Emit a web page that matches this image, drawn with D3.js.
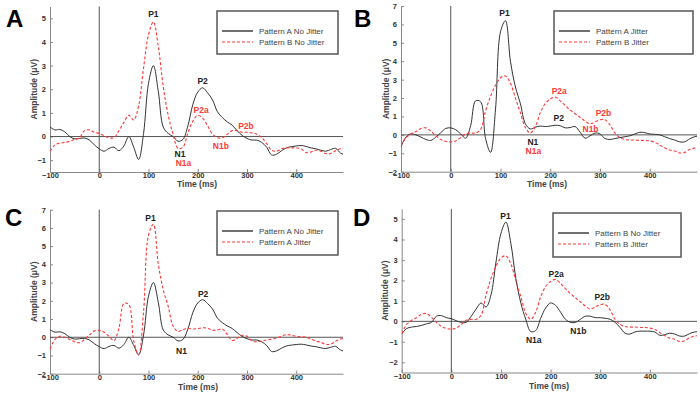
<!DOCTYPE html>
<html>
<head>
<meta charset="UTF-8">
<title>ERP waveforms</title>
<script src="https://cdn.jsdelivr.net/npm/d3@7/dist/d3.min.js"></script>
<style>
  html, body { margin: 0; padding: 0; background: #fff; }
  svg { display: block; font-family: "Liberation Sans", Arial, sans-serif; }
  .tick text { font-size: 7.5px; font-weight: bold; fill: #333; }
  .tick line, .domain { stroke: #888; }
  .axlabel { font-size: 8.5px; font-weight: bold; fill: #444; }
  .legend text { font-size: 8px; fill: #444; }
  .note { font-size: 8.5px; font-weight: bold; }
  .letter { font-size: 24px; font-weight: bold; fill: #000; }
</style>
</head>
<body>
<svg width="700" height="396"></svg>
<script>
// time grid (ms), one sample every 10 ms
const times = d3.range(-100, 510, 10)

// amplitudes in µV
const patternANoJitter = [0.41, 0.28, 0.3, 0.2, 0.0, -0.1, -0.08, -0.06, -0.15, -0.35,
  -0.52, -0.62, -0.5, -0.45, -0.6, -0.4, 0.0, -0.45, -0.97, 0.13,
  2.25, 3.0, 1.9, 0.4, 0.13, 0.0, -0.2, -0.12, 0.45, 1.35,
  1.88, 2.06, 1.85, 1.55, 1.05, 0.8, 0.62, 0.48, 0.25, 0.05,
  -0.08, -0.15, -0.15, -0.25, -0.45, -0.78, -0.75, -0.6, -0.48, -0.43,
  -0.4, -0.38, -0.42, -0.48, -0.52, -0.58, -0.62, -0.55, -0.5, -0.7, -0.78]

const patternBNoJitter = [-0.62, -0.35, -0.28, -0.25, -0.2, -0.12, -0.05, 0.25, 0.28, 0.18,
  0.13, 0.03, -0.05, -0.05, 0.25, 0.6, 0.9, 0.7, 1.3, 2.9,
  4.3, 4.85, 3.8, 2.1, 0.9, 0.1, -0.5, -0.45, 0.15, 0.65,
  0.9, 0.78, 0.45, 0.1, -0.05, -0.05, 0.1, 0.25, 0.25, 0.18,
  0.18, 0.15, 0.1, -0.05, -0.3, -0.58, -0.62, -0.52, -0.48, -0.48,
  -0.48, -0.52, -0.68, -0.65, -0.58, -0.62, -0.72, -0.72, -0.6, -0.52, -0.5]

const patternAJitter = [-0.64, -0.12, 0.05, 0.0, -0.12, -0.25, -0.3, -0.12, 0.12, 0.35,
  0.38, 0.28, 0.05, -0.18, 0.5, 1.85, 1.8, -0.2, -0.95, 1.4,
  5.6, 6.2, 4.0, 2.6, 1.7, 0.6, 0.32, 0.42, 0.48, 0.45,
  0.48, 0.52, 0.5, 0.38, 0.4, 0.45, 0.15, -0.18, -0.05, 0.1,
  0.05, -0.2, -0.25, -0.2, -0.15, -0.1, -0.05, 0.05, 0.14, 0.12,
  0.05, 0.03, 0.0, -0.1, -0.2, -0.28, -0.38, -0.38, -0.22, -0.1, -0.05]

const patternBJitter = [-0.6, -0.15, 0.05, 0.18, 0.35, 0.38, 0.2, -0.05, -0.25, -0.35,
  -0.38, -0.33, -0.15, 0.05, 0.1, 0.1, 0.3, 1.3, 2.1, 2.7,
  3.1, 3.2, 2.8, 2.0, 1.2, 0.4, 0.1, 0.45, 1.2, 1.7,
  1.95, 2.05, 1.85, 1.6, 1.35, 1.15, 0.95, 0.75, 0.6, 0.7,
  0.82, 0.82, 0.55, 0.1, -0.15, -0.25, -0.28, -0.28, -0.3, -0.3,
  -0.33, -0.4, -0.55, -0.7, -0.82, -0.88, -0.98, -0.95, -0.8, -0.72, -0.7]

const xTicks = [-100, 0, 100, 200, 300, 400]

// component labels: [text, time, amplitude, colour]
const notesA = [['P1', 110, 5.17, 'k'], ['P2', 210, 2.34, 'k'], ['P2a', 207, 1.11, 'r'],
  ['N1', 164, -0.76, 'k'], ['N1a', 171, -1.1, 'r'], ['N1b', 247, -0.4, 'r'], ['P2b', 298, 0.44, 'r']]
const notesB = [['P1', 108, 6.6, 'k'], ['P2a', 218, 2.38, 'r'], ['P2', 217, 0.93, 'k'],
  ['P2b', 307, 1.17, 'r'], ['N1b', 281, 0.32, 'r'], ['N1', 165, -0.4, 'k'], ['N1a', 166, -0.86, 'r']]
const notesC = [['P1', 104, 6.54, 'k'], ['P2', 211, 2.37, 'k'], ['N1', 167, -0.77, 'k']]
const notesD = [['P1', 109, 5.13, 'k'], ['P2a', 211, 2.31, 'k'], ['P2b', 304, 1.19, 'k'],
  ['N1a', 166, -0.9, 'k'], ['N1b', 256, -0.49, 'k']]

const black = '#333', red = '#ff3838'
const svg = d3.select('svg')

const panels = [
  { letter: 'A', lx: 6, ly: 27, x0: 50, x1: 343, y0: 172, y1: 6.5, ydom: [-1.5, 5.5], yticks: d3.range(-1, 6),
    solid: patternANoJitter, dashed: patternBNoJitter, names: ['Pattern A No Jitter', 'Pattern B No Jitter'],
    box: [217, 11, 121, 43], notes: notesA, tx: 197, ty: 187, ax: 37 },
  { letter: 'B', lx: 354, ly: 27, x0: 401, x1: 697, y0: 171.7, y1: 6, ydom: [-2, 7], yticks: d3.range(-2, 8),
    solid: patternAJitter, dashed: patternBJitter, names: ['Pattern A Jitter', 'Pattern B Jitter'],
    box: [554, 11, 139, 43], notes: notesB, tx: 547, ty: 187, ax: 389 },
  { letter: 'C', lx: 5, ly: 226, x0: 50, x1: 343, y0: 373.7, y1: 209.7, ydom: [-2, 7], yticks: d3.range(-2, 8),
    solid: patternANoJitter, dashed: patternAJitter, names: ['Pattern A No Jitter', 'Pattern A Jitter'],
    box: [217, 211, 121, 44], notes: notesC, tx: 198, ty: 389.5, ax: 37 },
  { letter: 'D', lx: 353, ly: 226, x0: 401.7, x1: 697, y0: 372.5, y1: 208.8, ydom: [-2.5, 5.5], yticks: d3.range(-2, 6),
    solid: patternBNoJitter, dashed: patternBJitter, names: ['Pattern B No Jitter', 'Pattern B Jitter'],
    box: [553, 213, 128, 44], notes: notesD, tx: 549, ty: 388.5, ax: 388 }
]

panels.forEach(function (p, i) {
  const x = d3.scaleLinear().domain([-100, 495]).range([p.x0, p.x1])
  const y = d3.scaleLinear().domain(p.ydom).range([p.y0, p.y1])
  const g = svg.append('g')

  svg.append('defs').append('clipPath').attr('id', 'clip' + i)
    .append('rect').attr('x', p.x0).attr('y', p.y1).attr('width', p.x1 - p.x0).attr('height', p.y0 - p.y1)

  // axes, ticks pointing inwards
  g.append('g').attr('transform', 'translate(0,' + p.y0 + ')')
    .call(d3.axisBottom(x).tickValues(xTicks).tickSizeInner(-3).tickSizeOuter(0).tickPadding(1))
  g.append('g').attr('transform', 'translate(' + p.x0 + ',0)')
    .call(d3.axisLeft(y).tickValues(p.yticks).tickFormat(d3.format('d'))
      .tickSizeInner(-3).tickSizeOuter(0).tickPadding(4))

  // reference lines at t = 0 and 0 µV
  g.append('line').attr('x1', x(0)).attr('x2', x(0)).attr('y1', p.y1).attr('y2', p.y0)
    .attr('stroke', '#555').attr('stroke-width', 1)
  g.append('line').attr('x1', p.x0).attr('x2', p.x1).attr('y1', y(0)).attr('y2', y(0))
    .attr('stroke', '#555').attr('stroke-width', 1)

  const line = d3.line()
    .x(function (d, j) { return x(times[j]) })
    .y(function (d) { return y(d) })
    .curve(d3.curveCatmullRom.alpha(0.5))

  const plot = g.append('g').attr('clip-path', 'url(#clip' + i + ')')
  plot.append('path').attr('d', line(p.solid))
    .attr('fill', 'none').attr('stroke', black).attr('stroke-width', 1)
  plot.append('path').attr('d', line(p.dashed))
    .attr('fill', 'none').attr('stroke', red).attr('stroke-width', 1.1).attr('stroke-dasharray', '3,2')

  // component labels
  g.selectAll('.note').data(p.notes).enter().append('text')
    .attr('class', 'note')
    .attr('x', function (d) { return x(d[1]) })
    .attr('y', function (d) { return y(d[2]) })
    .attr('text-anchor', 'middle')
    .attr('dy', '0.35em')
    .attr('fill', function (d) { return d[3] === 'r' ? red : '#222' })
    .text(function (d) { return d[0] })

  g.append('text').attr('class', 'axlabel').attr('x', p.tx).attr('y', p.ty)
    .attr('text-anchor', 'middle').text('Time (ms)')
  g.append('text').attr('class', 'axlabel')
    .attr('transform', 'translate(' + p.ax + ',' + ((p.y0 + p.y1) / 2) + ') rotate(-90)')
    .attr('text-anchor', 'middle').text('Amplitude (μV)')

  g.append('text').attr('class', 'letter').attr('x', p.lx).attr('y', p.ly).text(p.letter)

  // legend
  const lg = g.append('g').attr('class', 'legend')
  const b = p.box
  lg.append('rect').attr('x', b[0]).attr('y', b[1]).attr('width', b[2]).attr('height', b[3])
    .attr('fill', '#fff').attr('stroke', '#555').attr('stroke-width', 1.5)
  const rows = [[p.names[0], black, null], [p.names[1], red, '3,2']]
  rows.forEach(function (r, k) {
    const ry = b[1] + 20 + k * 11
    lg.append('line').attr('x1', b[0] + 5).attr('x2', b[0] + 36).attr('y1', ry).attr('y2', ry)
      .attr('stroke', r[1]).attr('stroke-width', r[2] ? 1.1 : 1.4).attr('stroke-dasharray', r[2])
    lg.append('text').attr('x', b[0] + 42).attr('y', ry).attr('dy', '0.35em').text(r[0])
  })
})
</script>
</body>
</html>
